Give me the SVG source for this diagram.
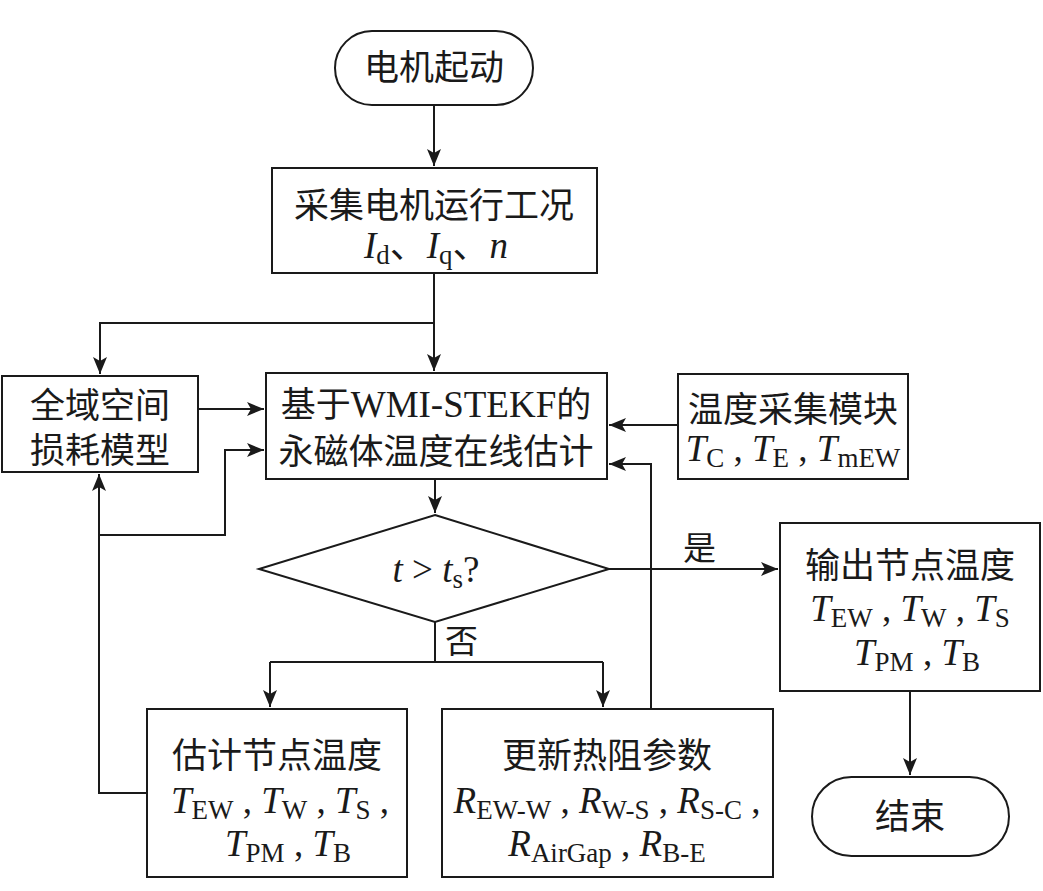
<svg xmlns="http://www.w3.org/2000/svg" width="1043" height="891" viewBox="0 0 1043 891">
<style>
.box{fill:#fff;stroke:#1a1a1a;stroke-width:2}
.ln{fill:none;stroke:#1a1a1a;stroke-width:2}
.t{font-family:"Liberation Serif","Noto Sans CJK SC",serif;font-size:35px;fill:#1a1a1a;text-anchor:middle}
.m{font-size:37px}
.i{font-style:italic}
.s{font-size:27px}
.lab{font-family:"Liberation Serif","Noto Sans CJK SC",serif;font-size:33px;fill:#1a1a1a}
</style>
<defs>
<marker id="ah" markerUnits="userSpaceOnUse" markerWidth="18" markerHeight="14" refX="17" refY="7" orient="auto">
<path d="M0,0 L17,7 L0,14 L4,7 Z" fill="#1a1a1a"/>
</marker>
</defs>
<g id="connectors">
<path class="ln" d="M434,105 V166" marker-end="url(#ah)"/>
<path class="ln" d="M434,273 V371" marker-end="url(#ah)"/>
<path class="ln" d="M434,323 H100 V374" marker-end="url(#ah)"/>
<path class="ln" d="M198,409 H264" marker-end="url(#ah)"/>
<path class="ln" d="M147,793 H99 V474" marker-end="url(#ah)"/>
<path class="ln" d="M99,535 H225 V450 H264" marker-end="url(#ah)"/>
<path class="ln" d="M678,425 H609" marker-end="url(#ah)"/>
<path class="ln" d="M651,709 V464 H609" marker-end="url(#ah)"/>
<path class="ln" d="M435,479 V513" marker-end="url(#ah)"/>
<path class="ln" d="M609,569 H778" marker-end="url(#ah)"/>
<path class="ln" d="M435,622 V662"/>
<path class="ln" d="M270,662 H603"/>
<path class="ln" d="M270,662 V707" marker-end="url(#ah)"/>
<path class="ln" d="M603,662 V707" marker-end="url(#ah)"/>
<path class="ln" d="M910,691 V775" marker-end="url(#ah)"/>
<text class="lab" x="683" y="560">是</text>
<text class="lab" x="445" y="653">否</text>
</g>
<g id="start">
<rect class="box" x="335" y="31" width="198" height="74" rx="37"/>
<text class="t" x="434" y="80">电机起动</text>
</g>
<g id="collect">
<rect class="box" x="272" y="168" width="325" height="105"/>
<text class="t" x="434" y="218">采集电机运行工况</text>
<text class="t m" x="436" y="258"><tspan class="i">I</tspan><tspan class="s" dy="6">d</tspan><tspan dy="-6">、</tspan><tspan class="i">I</tspan><tspan class="s" dy="6">q</tspan><tspan dy="-6">、</tspan><tspan class="i">n</tspan></text>
</g>
<g id="loss">
<rect class="box" x="2" y="376" width="196" height="96"/>
<text class="t" x="100" y="418">全域空间</text>
<text class="t" x="100" y="463">损耗模型</text>
</g>
<g id="estimator">
<rect class="box" x="266" y="373" width="341" height="106"/>
<text class="t" x="436" y="417">基于<tspan class="m">WMI-STEKF</tspan>的</text>
<text class="t" x="436" y="464">永磁体温度在线估计</text>
</g>
<g id="sensor">
<rect class="box" x="678" y="374" width="230" height="105"/>
<text class="t" x="793" y="422">温度采集模块</text>
<text class="t m" x="793" y="461"><tspan class="i">T</tspan><tspan class="s" dy="6">C</tspan><tspan dy="-6"> , </tspan><tspan class="i">T</tspan><tspan class="s" dy="6">E</tspan><tspan dy="-6"> , </tspan><tspan class="i">T</tspan><tspan class="s" dy="6">mEW</tspan></text>
</g>
<g id="decision">
<polygon class="box" points="435,515 609,569 435,622 259,569"/>
<text class="t m" x="436" y="582"><tspan class="i">t</tspan> &gt; <tspan class="i">t</tspan><tspan class="s" dy="6">s</tspan><tspan dy="-6">?</tspan></text>
</g>
<g id="output">
<rect class="box" x="780" y="523" width="260" height="168"/>
<text class="t" x="910" y="578">输出节点温度</text>
<text class="t m" x="910" y="621"><tspan class="i">T</tspan><tspan class="s" dy="6">EW</tspan><tspan dy="-6"> , </tspan><tspan class="i">T</tspan><tspan class="s" dy="6">W</tspan><tspan dy="-6"> , </tspan><tspan class="i">T</tspan><tspan class="s" dy="6">S</tspan></text>
<text class="t m" x="917" y="665"><tspan class="i">T</tspan><tspan class="s" dy="6">PM</tspan><tspan dy="-6"> , </tspan><tspan class="i">T</tspan><tspan class="s" dy="6">B</tspan></text>
</g>
<g id="estimate">
<rect class="box" x="147" y="709" width="260" height="168"/>
<text class="t" x="277" y="768">估计节点温度</text>
<text class="t m" x="280" y="813"><tspan class="i">T</tspan><tspan class="s" dy="6">EW</tspan><tspan dy="-6"> , </tspan><tspan class="i">T</tspan><tspan class="s" dy="6">W</tspan><tspan dy="-6"> , </tspan><tspan class="i">T</tspan><tspan class="s" dy="6">S</tspan><tspan dy="-6"> ,</tspan></text>
<text class="t m" x="288" y="856"><tspan class="i">T</tspan><tspan class="s" dy="6">PM</tspan><tspan dy="-6"> , </tspan><tspan class="i">T</tspan><tspan class="s" dy="6">B</tspan></text>
</g>
<g id="update">
<rect class="box" x="442" y="709" width="331" height="168"/>
<text class="t" x="607" y="768">更新热阻参数</text>
<text class="t m" x="607" y="813"><tspan class="i">R</tspan><tspan class="s" dy="6">EW-W</tspan><tspan dy="-6"> , </tspan><tspan class="i">R</tspan><tspan class="s" dy="6">W-S</tspan><tspan dy="-6"> , </tspan><tspan class="i">R</tspan><tspan class="s" dy="6">S-C</tspan><tspan dy="-6"> ,</tspan></text>
<text class="t m" x="607" y="856"><tspan class="i">R</tspan><tspan class="s" dy="6">AirGap</tspan><tspan dy="-6"> , </tspan><tspan class="i">R</tspan><tspan class="s" dy="6">B-E</tspan></text>
</g>
<g id="end">
<rect class="box" x="812" y="777" width="197" height="79" rx="39.5"/>
<text class="t" x="910" y="829">结束</text>
</g>
</svg>
